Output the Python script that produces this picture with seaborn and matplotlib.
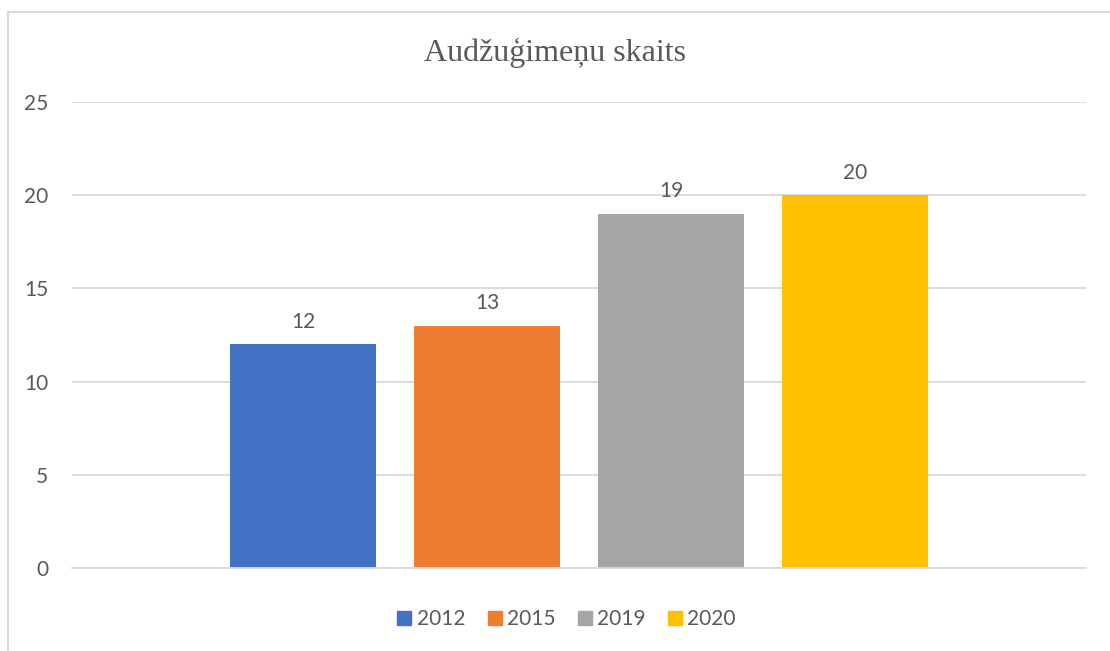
import matplotlib
matplotlib.use("Agg")
import matplotlib.pyplot as plt
import pandas as pd
import seaborn as sns
from matplotlib.lines import Line2D

# --- data ---
years = ["2012", "2015", "2019", "2020"]
counts = [12, 13, 19, 20]
colors = ["#4472C4", "#ED7D31", "#A5A5A5", "#FFC000"]
title = "Audžuģimeņu skaits"
yticks = [0, 5, 10, 15, 20, 25]

df = pd.DataFrame({"group": [""] * len(years), "year": years, "count": counts})

sns.set_theme(style="white")
plt.rcParams["font.family"] = ["Lato", "DejaVu Sans"]
text_gray = "#595959"
grid_gray = "#D9D9D9"

fig = plt.figure(figsize=(11.1, 6.51), dpi=100)
ax = fig.add_axes([72 / 1110, 1 - 568 / 651, (1086 - 72) / 1110, (568 - 102) / 651])

sns.barplot(data=df, x="group", y="count", hue="year", palette=colors,
            width=0.8, gap=0.2065, legend=False, ax=ax, saturation=1, linewidth=0)

for c in ax.containers:
    ax.bar_label(c, padding=9, fontsize=15, color=text_gray)

ax.set_xlim(-0.551, 0.551)
ax.set_ylim(0, 25)
ax.set_yticks(yticks)
ax.yaxis.grid(True, color=grid_gray, lw=1.3)
ax.set_axisbelow(True)
for s in ["left", "right", "top"]:
    ax.spines[s].set_visible(False)
ax.spines["bottom"].set_color(grid_gray)
ax.spines["bottom"].set_linewidth(1.3)
ax.tick_params(axis="y", length=0, pad=17, labelsize=15, labelcolor=text_gray)
ax.set_xticks([])
ax.set_xlabel("")
ax.set_ylabel("")

fig.text(0.5, 1 - 53 / 651, title, ha="center", va="center", fontsize=23,
         color=text_gray, family=["Liberation Serif", "DejaVu Serif"])

handles = [Line2D([], [], marker="s", ls="", markersize=10, color=c) for c in colors]
fig.legend(handles, years, loc="center", bbox_to_anchor=(566 / 1110, 1 - 619 / 651), ncol=4,
           frameon=False, fontsize=15, labelcolor=text_gray, handletextpad=0.2,
           columnspacing=1.0, handlelength=0.8)

# chart frame (left and top edges visible)
fig.add_artist(Line2D([8 / 1110, 8 / 1110], [0, 1 - 12 / 651], color=grid_gray, lw=1.5))
fig.add_artist(Line2D([8 / 1110, 1], [1 - 12 / 651, 1 - 12 / 651], color=grid_gray, lw=1.5))

fig.savefig("out.png", dpi=100)
